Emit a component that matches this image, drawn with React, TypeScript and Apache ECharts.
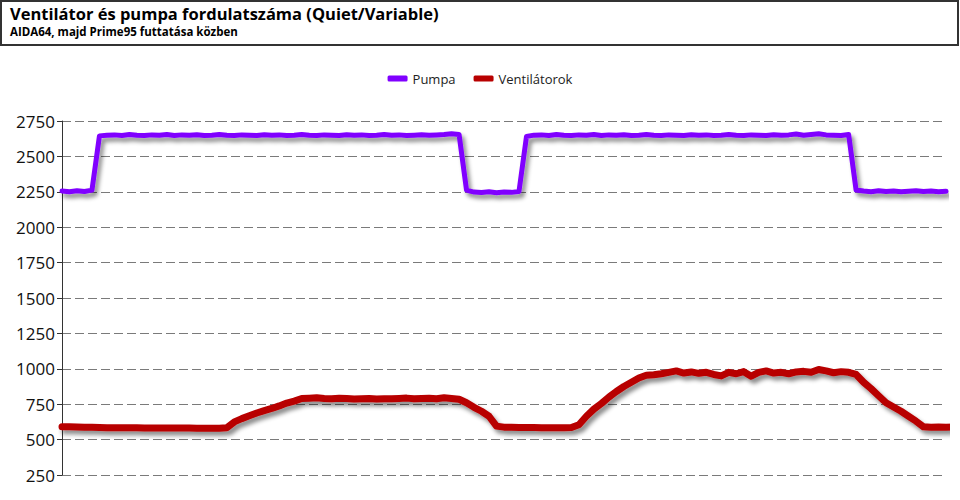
import React, { useEffect, useRef } from "react";
import * as echarts from "echarts";

const titleText = "Ventilátor és pumpa fordulatszáma (Quiet/Variable)";
const subtitleText = "AIDA64, majd Prime95 futtatása közben";
const seriesNames = ["Pumpa", "Ventilátorok"];
const yTicks = { min: 250, max: 2750, interval: 250 };

const pumpa = [
  2255, 2250, 2258, 2252, 2262,
  2645, 2650, 2652, 2648, 2655, 2650, 2647, 2652, 2650, 2655, 2648, 2652, 2650, 2653, 2648,
  2650, 2655, 2650, 2647, 2652, 2650, 2648, 2653, 2650, 2652, 2648, 2650, 2655, 2650, 2648,
  2652, 2650, 2647, 2653, 2650, 2652, 2648, 2650, 2655, 2650, 2652, 2648, 2650, 2653, 2650,
  2652, 2655, 2660, 2655,
  2262, 2248, 2245, 2250, 2244, 2248, 2246, 2252,
  2640, 2650, 2652, 2648, 2655, 2650, 2647, 2652, 2650, 2655, 2648, 2652, 2650, 2653, 2648,
  2650, 2655, 2650, 2647, 2652, 2650, 2648, 2653, 2650, 2652, 2648, 2650, 2655, 2650, 2648,
  2652, 2650, 2647, 2653, 2650, 2652, 2658, 2650, 2655, 2660, 2652, 2650, 2648, 2655,
  2262, 2255, 2250, 2258, 2252, 2256, 2250, 2254, 2258, 2252, 2256, 2250, 2254,
];

const ventilatorok = [
  590, 590, 589, 588, 587,
  585, 584, 584, 583, 583, 583, 582, 582, 582, 582, 582, 582, 582, 581, 581, 581, 581,
  583, 625, 648, 668, 688, 705, 720, 738, 758, 772, 790,
  792, 795, 790, 788, 792, 790, 786, 788, 790, 787, 789, 788, 790, 793, 788, 790, 792, 788, 795, 790,
  785, 760, 728, 700, 665, 595,
  588, 587, 586, 585, 585, 584, 584, 584, 584, 585,
  605, 665, 715, 755, 800, 840, 875, 905, 935, 955, 958, 965,
  975, 985, 970, 978, 968, 975, 960, 950, 975, 965, 980, 948, 975, 985, 970, 975, 965, 978, 982, 975,
  995, 985, 972, 980, 975,
  960, 905, 860, 810, 760, 730, 700, 665, 630, 590,
  588, 589, 588, 589,
];

const categories = pumpa.map((_, i) => String(i));

export default function App() {
  const ref = useRef<HTMLDivElement>(null);
  useEffect(() => {
    document.body.style.margin = "0";
    const chart = echarts.init(ref.current!, null, { renderer: "svg" });
    const lineShadow = {
      shadowColor: "rgba(0,0,0,0.45)",
      shadowBlur: 4,
      shadowOffsetX: 3,
      shadowOffsetY: 4,
    };
    chart.setOption({
      animation: false,
      backgroundColor: "#ffffff",
      graphic: [
        {
          type: "rect",
          shape: { x: 1, y: 1, width: 957, height: 44 },
          style: { fill: "none", stroke: "#333333", lineWidth: 2 },
        },
        {
          type: "text",
          x: 10,
          y: 5,
          style: {
            text: titleText,
            font: "bold 16.5px 'Open Sans'",
            fill: "#000000",
          },
        },
        {
          type: "text",
          x: 10,
          y: 25,
          style: {
            text: subtitleText,
            font: "bold 11.5px 'Open Sans'",
            fill: "#000000",
          },
        },
      ],
      legend: {
        top: 67,
        left: "center",
        itemWidth: 20,
        itemHeight: 6,
        itemGap: 18,
        textStyle: { fontFamily: "'Open Sans'", fontSize: 13, color: "#222222" },
        data: [
          { name: seriesNames[0], icon: "roundRect" },
          { name: seriesNames[1], icon: "roundRect" },
        ],
      },
      grid: { left: 62, right: 14, top: 121, bottom: 25 },
      xAxis: {
        type: "category",
        data: categories,
        boundaryGap: false,
        show: false,
      },
      yAxis: {
        type: "value",
        min: yTicks.min,
        max: yTicks.max,
        interval: yTicks.interval,
        axisLine: { show: true, lineStyle: { color: "#333333", width: 1 } },
        axisTick: { show: true, length: 5, lineStyle: { color: "#333333" } },
        axisLabel: {
          fontFamily: "'Open Sans'",
          fontSize: 17,
          color: "#111111",
          margin: 7,
          formatter: (v: number) => String(v),
        },
        splitLine: {
          show: true,
          lineStyle: { color: "#7a7a7a", type: [9, 4], width: 1 },
        },
      },
      series: [
        {
          name: seriesNames[0],
          type: "line",
          data: pumpa,
          symbol: "none",
          color: "#8000ff",
          lineStyle: { width: 5, color: "#8000ff", cap: "round", join: "round", ...lineShadow },
          z: 3,
        },
        {
          name: seriesNames[1],
          type: "line",
          data: ventilatorok,
          symbol: "none",
          color: "#b80000",
          lineStyle: { width: 7, color: "#b80000", cap: "round", join: "round", ...lineShadow },
          z: 2,
        },
      ],
    });
    return () => chart.dispose();
  }, []);
  return <div ref={ref} style={{ width: 960, height: 500 }} />;
}
